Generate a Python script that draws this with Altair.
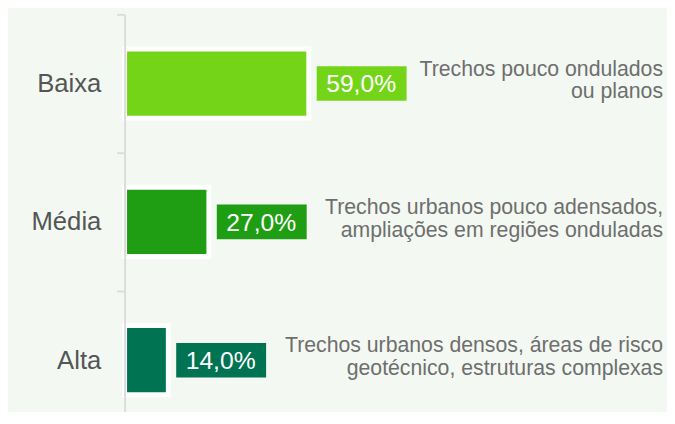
import altair as alt
import pandas as pd

categories = ["Baixa", "Média", "Alta"]
values = [59.0, 27.0, 14.0]
descriptions = [
    "Trechos pouco ondulados\nou planos",
    "Trechos urbanos pouco adensados,\nampliações em regiões onduladas",
    "Trechos urbanos densos, áreas de risco\ngeotécnico, estruturas complexas",
]
colors = ["#74d518", "#1f9e14", "#007352"]

df = pd.DataFrame({
    "cat": categories,
    "value": values,
    "desc": descriptions,
})
df["label"] = [f"{v:.1f}".replace(".", ",") + "%" for v in values]

FONT = "Liberation Sans"

y_enc = alt.Y(
    "cat:N",
    sort=categories,
    scale=alt.Scale(range=[0, 420], paddingInner=0, paddingOuter=0),
    axis=alt.Axis(
        title=None,
        domainColor="#dcdcdc",
        domainWidth=2,
        tickColor="#dcdcdc",
        tickWidth=2,
        tickSize=8,
        tickBand="extent",
        labelFontSize=26,
        labelColor="#555555",
        labelFont=FONT,
        labelPadding=16,
        zindex=1,
    ),
)
x_scale = alt.Scale(domain=[0, 100])
color_enc = alt.Color("cat:N", scale=alt.Scale(domain=categories, range=colors), legend=None)

base = alt.Chart(df)

bars = base.mark_bar(size=70, stroke="white", strokeWidth=5).encode(
    x=alt.X("value:Q", scale=x_scale, axis=None),
    y=y_enc,
    color=color_enc,
)

boxes = base.mark_bar(size=35, xOffset=8, x2Offset=99).encode(
    x=alt.X("value:Q", scale=x_scale, axis=None),
    x2=alt.X2("value"),
    y=alt.Y("cat:N", sort=categories),
    color=color_enc,
)

labels = base.mark_text(
    dx=53, dy=1, align="center", baseline="middle", fontSize=25, color="white", font=FONT
).encode(
    x=alt.X("value:Q", scale=x_scale, axis=None),
    y=alt.Y("cat:N", sort=categories),
    text="label:N",
)

desc = base.mark_text(
    align="right", baseline="alphabetic", dy=-8, fontSize=21.5, lineHeight=23,
    lineBreak="\n", color="#6e6e6e", font=FONT,
).encode(
    x=alt.value(545),
    y=alt.Y("cat:N", sort=categories),
    text="desc:N",
)

chart = (
    alt.layer(bars, boxes, labels, desc)
    .properties(
        width=316,
        height=400,
        background="#f3f9f2",
        padding={"left": 118, "top": 4, "right": 233, "bottom": 0},
        autosize=alt.AutoSizeParams(type="none"),
    )
    .configure_view(stroke=None)
)

chart.save("out.html", embed_options={"renderer": "svg", "actions": False})
